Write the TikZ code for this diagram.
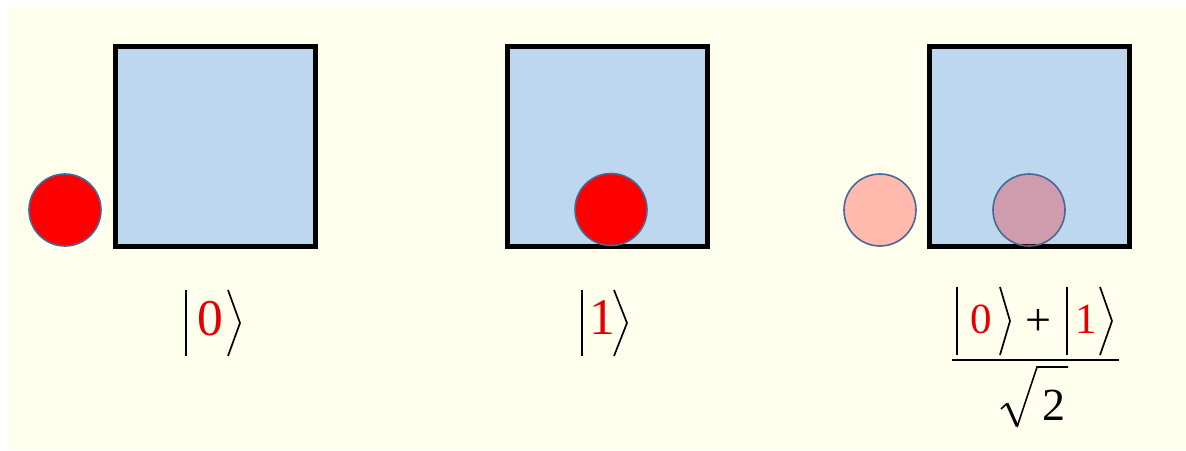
\documentclass[tikz,border=0pt]{standalone}
\usepackage{fontspec}
\IfFontExistsTF{LiberationSerif-Regular.ttf}
  {\newfontfamily\tnr{LiberationSerif-Regular.ttf}}
  {\newfontfamily\tnr{Latin Modern Roman}}
\definecolor{bgyellow}{RGB}{255,255,238}
\definecolor{boxblue}{RGB}{189,215,238}
\definecolor{ringblue}{RGB}{72,104,150}
\definecolor{ketred}{RGB}{228,0,0}
\begin{document}
\begin{tikzpicture}[x=1pt,y=-1pt,
  boxnode/.style={draw=black,fill=boxblue,line width=5pt,minimum size=200pt,inner sep=0pt,shape=rectangle},
  ball/.style={circle,draw=ringblue,line width=1.6pt,minimum size=72pt,inner sep=0pt,fill=red},
  ghost/.style={ball,fill=red,fill opacity=0.27,draw opacity=1},
  bigdigit/.style={inner sep=0pt,text=ketred,font=\tnr\fontsize{51.5}{60}\selectfont},
  smalldigit/.style={inner sep=0pt,text=ketred,font=\tnr\fontsize{43}{50}\selectfont},
  blacksym/.style={inner sep=0pt,text=black,font=\tnr\fontsize{46}{50}\selectfont},
  ketbar/.style={line width=2.2pt,line cap=butt},
  ketangle/.style={line width=1.7pt,line join=miter,line cap=butt}]
\useasboundingbox (0,0) rectangle (1186,450);
\fill[white] (0,0) rectangle (1186,450);
\fill[bgyellow] (8,7) rectangle (1186,450);

% boxes
\node[boxnode] (b1) at (215.5,146.5) {};
\node[boxnode] (b2) at (607.5,146.5) {};
\node[boxnode] (b3) at (1029.5,146.5) {};

% balls
\node[ball] (c1) at (65,210) {};
\node[ball] (c2) at (611,209.5) {};
\node[ghost] (c3) at (880,210) {};
\node[ghost] (c4) at (1029,210) {};

% label |0>
\node[bigdigit] (z1) at (210,318.5) {0};
\draw[ketbar] (186,290) -- (186,356);
\draw[ketangle] (228,290) -- (240,323) -- (228,356);

% label |1>
\node[bigdigit] (o1) at (602.5,317.5) {1};
\draw[ketbar] (582,290) -- (582,356);
\draw[ketangle] (614,290) -- (627,323) -- (614,356);

% label (|0>+|1>)/sqrt2
\node[smalldigit] (z2) at (981,319.5) {0};
\draw[ketbar] (957,287) -- (957,355);
\draw[ketangle] (1000,287) -- (1010,321) -- (1000,355);
\node[blacksym] (plus) at (1038,323) {+};
\node[smalldigit] (o2) at (1086.5,319.5) {1};
\draw[ketbar] (1067,287) -- (1067,355);
\draw[ketangle] (1100,287) -- (1112,321) -- (1100,355);
\draw[line width=2pt] (952,360) -- (1119,360);
\node[blacksym] (two) at (1054,405) {2};
\draw[line width=1.6pt,line join=miter] (1001,409) -- (1007,403.5);
\draw[line width=3pt,line cap=butt] (1007,403.5) -- (1017,426);
\draw[line width=1.6pt,line join=miter] (1017,427) -- (1037,367) -- (1068,367);
\end{tikzpicture}
\end{document}
